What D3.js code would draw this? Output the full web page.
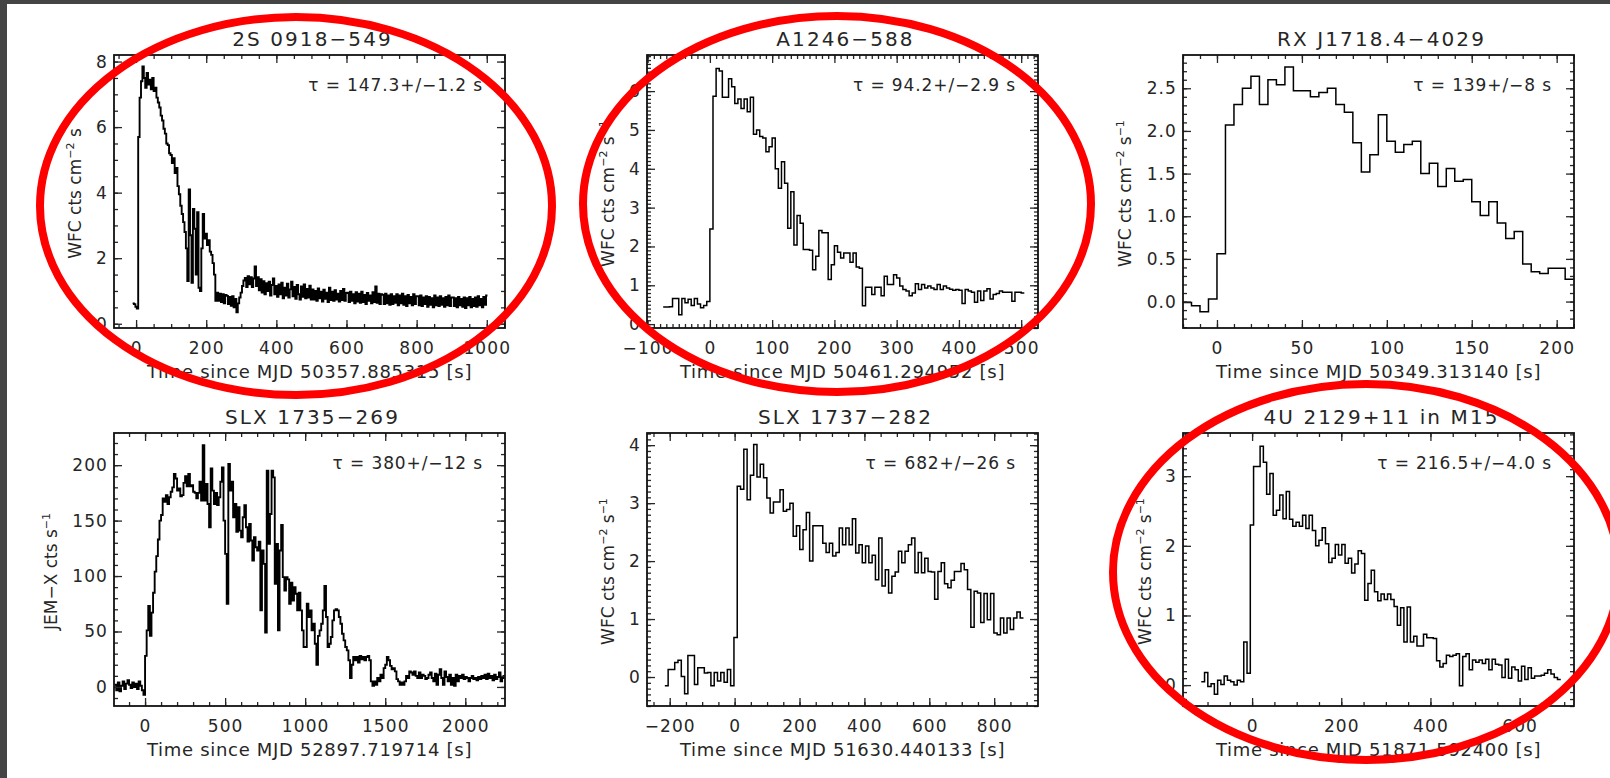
<!DOCTYPE html>
<html>
<head>
<meta charset="utf-8">
<script src="https://cdnjs.cloudflare.com/ajax/libs/d3/7.8.5/d3.min.js"></script>
<style>
body { margin: 0; background: #fff; }
svg { display: block; }
</style>
</head>
<body>
<div id="chart"></div>
<script>
// ---- data ----
var names = ["2S 0918\u2212549", "A1246\u2212588", "RX J1718.4\u22124029",
             "SLX 1735\u2212269", "SLX 1737\u2212282", "4U 2129+11 in M15"];
var tauLabels = ["147.3+/\u22121.2", "94.2+/\u22122.9", "139+/\u22128",
                 "380+/\u221212", "682+/\u221226", "216.5+/\u22124.0"];
var mjdLabels = ["50357.885315", "50461.294952", "50349.313140",
                 "52897.719714", "51630.440133", "51871.592400"];

// light curves: bin start (s), bin width (s), rates
var rate0918 = [
  0.62, 0.60, 0.52, 0.46, 5.7, 6.9, 7.4, 7.85, 7.5, 7.2,
  7.65, 7.3, 7.45, 7.15, 7.5, 7.1, 7.2, 6.9, 6.75, 6.6,
  6.35, 6.2, 5.95, 5.8, 5.5, 5.45, 5.2, 5.15, 4.9, 5.05,
  4.6, 4.75, 4.2, 3.95, 3.6, 3.35, 3.1, 2.8, 2.3, 1.3,
  4.1, 2.7, 1.25, 3.5, 2.9, 1.5, 3.4, 1.1, 1.0, 2.3,
  3.35, 2.6, 2.75, 2.4, 2.55, 2.2, 2.1, 1.85, 1.5, 0.7,
  0.95, 0.7, 0.92, 0.66, 0.9, 0.62, 0.88, 0.85, 0.6, 0.82,
  0.55, 0.84, 0.5, 0.76, 0.35, 0.62, 0.8, 0.95, 1.15, 1.32,
  1.4, 1.12, 1.45, 1.2, 1.42, 1.12, 1.38, 1.75, 1.15, 1.42,
  1.02, 1.36, 0.95, 1.3, 0.9, 1.24, 1.0, 1.28, 0.86, 1.18,
  1.38, 0.9,
  1.15, 0.82, 1.2, 0.9, 1.25, 0.78, 1.1, 0.86, 1.22, 0.8, 1.05, 1.28, 0.84,
  1.12, 0.76, 1.18, 0.9, 0.74, 1.14, 0.82, 1.2, 0.78, 1.06, 0.8, 1.16, 0.74,
  1.05, 0.74, 1.0, 0.7, 1.08, 0.78, 0.98, 0.68, 1.04, 0.76, 0.95, 0.66, 1.1,
  0.72, 0.98, 0.7, 1.02, 0.74, 0.92, 0.68, 1.0, 0.72, 1.06, 0.7, 0.94,
  0.95, 0.66, 0.98, 0.7, 0.9, 0.62, 0.96, 0.68, 0.92, 0.64, 0.98, 0.66, 0.88,
  0.6, 0.94, 0.7, 0.86, 0.62, 0.96, 0.66, 1.14, 0.64, 0.92, 0.6, 0.9,
  0.88, 0.6, 0.92, 0.62, 0.86, 0.58, 0.9, 0.6, 0.84, 0.64, 0.9, 0.56, 0.86,
  0.62, 0.92, 0.58, 0.84, 0.54, 0.88, 0.62, 0.82, 0.56, 0.9, 0.6, 0.84,
  0.84, 0.56, 0.86, 0.54, 0.8, 0.6, 0.84, 0.52, 0.82, 0.58, 0.78, 0.5, 0.86,
  0.56, 0.8, 0.54, 0.84, 0.58, 0.78, 0.52, 0.82, 0.56, 0.86, 0.54, 0.8,
  0.8, 0.54, 0.78, 0.5, 0.82, 0.56, 0.76, 0.52, 0.8, 0.48, 0.78, 0.56, 0.82,
  0.5, 0.76, 0.54, 0.8, 0.52, 0.84, 0.56, 0.76, 0.5, 0.82, 0.58, 0.86
];
var rate1246 = [
  0.44, 0.44, 0.45, 0.66, 0.66, 0.24, 0.66, 0.55, 0.64, 0.48, 0.66, 0.52, 0.42, 0.48, 0.58,
  2.45, 5.87, 6.58, 6.52, 5.84, 5.84, 6.32, 6.11, 5.68, 5.8,
  5.55, 5.8, 5.47, 5.84, 4.89, 5.0, 4.83, 4.79, 4.44, 4.57,
  4.79, 4.0, 3.5, 4.18, 3.63, 2.47, 3.41, 2.04, 2.8, 2.6,
  1.92, 1.92, 1.9, 1.4, 1.75, 2.41, 2.35, 2.35, 1.15, 1.53,
  2.02, 1.85, 1.7, 1.83, 1.83, 1.59, 1.83, 1.47, 1.44, 0.47,
  0.95, 0.95, 0.76, 0.95, 0.95, 0.73, 1.23, 1.02, 1.02, 1.27,
  1.19, 0.98, 0.89, 0.85, 0.73, 0.8, 1.04, 0.89, 1.02, 0.93,
  0.98, 0.93, 0.89, 1.02, 0.89, 0.98, 0.93, 0.9, 0.87, 0.89,
  0.87, 0.53, 0.89, 0.85, 0.82, 0.56, 0.85, 0.61, 0.85, 0.91,
  0.65, 0.76, 0.79, 0.85, 0.82, 0.82, 0.82, 0.59, 0.82, 0.82, 0.8
];
var rate1718 = [
  -0.01, -0.05, -0.12, 0.03, 0.56, 2.07, 2.31, 2.50, 2.64, 2.31,
  2.60, 2.54, 2.75, 2.47, 2.47, 2.40, 2.45, 2.50, 2.31, 2.22,
  1.86, 1.52, 1.72, 2.19, 1.88, 1.75, 1.84, 1.88, 1.50, 1.62,
  1.35, 1.56, 1.41, 1.43, 1.17, 1.01, 1.17, 0.92, 0.74, 0.82,
  0.44, 0.35, 0.33, 0.39, 0.39, 0.26
];
var rate1735 = [
  2, -3, 4, -4, 1, 5, -2, 3, 6, 2, -1, 4, 0, 3, -2, 5, 1, -3, -7,
  28, 51, 73, 46, 67, 85, 104, 118, 133, 150,
  155, 170, 167, 173, 165, 171, 176, 180, 192, 188,
  177, 179, 172, 173, 184, 190, 181, 192, 181, 182,
  176, 175, 170, 175, 185, 168, 218, 168, 183, 165,
  144, 197, 177, 165, 175, 164, 171, 185, 198, 150,
  120, 75, 201, 177, 185, 153, 165, 140, 162, 141,
  135, 153, 164, 144, 131, 147, 132, 114, 135, 126,
  123, 131, 69, 123, 111, 49, 195, 129, 156, 195,
  189, 93, 129, 51, 123, 146, 99, 87, 99, 97,
  75, 94, 78, 90, 84, 69, 85, 69, 51, 36,
  36, 75, 63, 69, 51, 57, 39, 20, 46, 51,
  57, 69, 91, 63, 36, 39, 45, 60, 69, 70,
  69, 63, 57, 48, 42, 36, 33, 24, 8, 20,
  27, 24, 27, 22, 28, 25, 27, 24, 27, 28,
  24, 5, 1, 5, 2, 8, 5, 11, 8, 17,
  20, 27, 24, 19, 16, 17, 14, 7, 5, 2,
  4, 2, 5, 10, 8, 14, 13, 11, 14, 10,
  8, 13, 8, 11, 10, 7, 8, 11, 13, 8,
  5, 12, 2, 11, 16, 8, 2, 14, 9, 5,
  11, 2, 8, 1, 11, 5, 10, 8, 11, 7,
  9, 8, 5, 8, 10, 7, 8, 6, 9, 7,
  10, 8, 11, 7, 12, 8, 10, 6, 11, 7,
  9, 13, 5, 8, 10
];
var rate1737 = [
  -0.15, 0.13, 0.13, 0.25, 0.29, 0.01, -0.29, 0.37, 0.37, -0.13, 0.16,
  0.16, 0.07, 0.08, -0.15, 0.08, -0.07, 0.08, -0.09, 0.13, -0.15,
  0.68, 3.29, 3.24, 3.93, 3.06, 3.48, 4.01, 3.45, 3.67, 3.44,
  3.09, 2.83, 3.02, 3.02, 3.23, 2.86, 2.89, 3.0, 2.43, 2.61,
  2.2, 2.54, 2.84, 2.0, 2.61, 2.61, 2.61, 2.31, 2.15, 2.31,
  2.09, 2.15, 2.57, 2.28, 2.57, 2.28, 2.73, 2.14, 2.28, 1.97,
  2.26, 1.97, 2.1, 1.68, 2.4, 1.57, 1.85, 1.45, 1.74, 1.81,
  2.17, 1.97, 2.17, 2.28, 2.4, 1.8, 2.15, 1.8, 2.05, 1.82,
  1.81, 1.34, 1.82, 1.97, 1.61, 1.54, 1.67, 1.82, 1.82, 1.96,
  1.85, 1.51, 0.86, 1.48, 1.45, 0.94, 1.44, 0.99, 1.44, 0.76,
  0.73, 1.02, 0.76, 1.02, 0.82, 1.02, 1.12, 1.02
];
var rate2129 = [
  0.05, 0.18, -0.02, 0.02, -0.13, 0.07, 0.01, 0.13, 0.07, 0.05,
  0.0, 0.07, 0.05, 0.62, 0.17, 2.3, 3.14, 3.14, 3.43, 3.2,
  2.74, 3.04, 2.44, 2.51, 2.73, 2.39, 2.78, 2.38, 2.28, 2.34,
  2.28, 2.44, 2.25, 2.44, 2.22, 2.0, 2.08, 2.26, 2.03, 1.76,
  1.82, 2.02, 1.87, 2.02, 1.75, 1.82, 1.61, 1.74, 1.93, 1.89,
  1.22, 1.46, 1.65, 1.34, 1.21, 1.31, 1.23, 1.31, 1.23, 1.13,
  0.86, 1.11, 0.62, 1.12, 0.62, 0.7, 0.56, 0.56, 0.73, 0.68,
  0.68, 0.67, 0.35, 0.26, 0.31, 0.43, 0.41, 0.43, 0.45, -0.01,
  0.41, 0.45, 0.22, 0.36, 0.33, 0.36, 0.31, 0.37, 0.22, 0.37,
  0.3, 0.29, 0.11, 0.37, 0.1, 0.26, 0.22, 0.06, 0.27, 0.08,
  0.25, 0.1, 0.13, 0.13, 0.14, 0.17, 0.22, 0.16, 0.11, 0.08
];
var rates = [rate0918, rate1246, rate1718, rate1735, rate1737, rate2129];
var binStart = [-10, -75, -20, -190, -215, -114];
var binWidth = [4, 5, 5, 10, 10.14, 7.33];
var lineWidth = [1.9, 1.5, 1.5, 1.9, 1.5, 1.5];

// axis ranges and tick steps
var xDomains = [[-63, 1052], [-101, 527], [-20, 210.2], [-194, 2248], [-270, 935], [-155, 722]];
var yDomains = [[-0.13, 8.2], [-0.1, 6.93], [-0.31, 2.89], [-17.2, 229], [-0.5, 4.21], [-0.3, 3.62]];
var xMajor = [200, 100, 50, 500, 200, 200];
var xMinor = [50, 10, 10, 100, 50, 50];
var yMajor = [2, 1, 0.5, 50, 1, 1];
var yMinor = [0.5, 0.1, 0.1, 10, 0.1, 0.1];
var yFormats = ["d", "d", ".1f", "d", "d", "d"];
// y title: [text, superscript] pieces
var yTitles = [
  [["WFC cts cm", ""], ["", "\u22122"], [" s", ""]],
  [["WFC cts cm", ""], ["", "\u22122"], [" s", ""], ["", "\u22121"]],
  [["WFC cts cm", ""], ["", "\u22122"], [" s", ""], ["", "\u22121"]],
  [["JEM\u2212X cts s", ""], ["", "\u22121"]],
  [["WFC cts cm", ""], ["", "\u22122"], [" s", ""], ["", "\u22121"]],
  [["WFC cts cm", ""], ["", "\u22122"], [" s", ""], ["", "\u22121"]]
];

// ---- layout ----
var W = 1610, H = 778;
var colLeft = [114, 647, 1183], rowTop = [55, 433];
var boxW = 391, boxH = 273;
var yTitleOff = [-39, -39, -58, -63, -39, -38];
var FONT = "'DejaVu Sans', Verdana, sans-serif";
var INK = "#262626";

var svg = d3.select("#chart").append("svg")
    .attr("width", W)
    .attr("height", H)
    .style("font-family", FONT);

svg.append("rect").attr("width", W).attr("height", H).attr("fill", "#fff");
// dark frame of the screenshot
svg.append("rect").attr("width", W).attr("height", 4).attr("fill", "#444");
svg.append("rect").attr("width", 7).attr("height", H).attr("fill", "#444");

function tickVals(dom, step) {
    var a = Math.ceil(dom[0] / step - 1e-9), b = Math.floor(dom[1] / step + 1e-9);
    return d3.range(a, b + 1).map(function(k) { return +(k * step).toFixed(6); });
}

function styleAxis(sel) {
    sel.select(".domain").remove();
    sel.attr("font-family", FONT).attr("font-size", 17);
    sel.selectAll("line").attr("stroke", INK).attr("stroke-width", 1.3);
    sel.selectAll("text").attr("fill", INK).attr("letter-spacing", 1.1);
}

function drawPanel(i) {
    var left = colLeft[i % 3], top = rowTop[Math.floor(i / 3)];
    var g = svg.append("g").attr("transform", "translate(" + left + "," + top + ")");

    var x = d3.scaleLinear().domain(xDomains[i]).range([0, boxW]);
    var y = d3.scaleLinear().domain(yDomains[i]).range([boxH, 0]);

    g.append("clipPath").attr("id", "clip" + i)
        .append("rect").attr("width", boxW).attr("height", boxH);

    var data = rates[i];
    var pts = data.map(function(v, k) { return [binStart[i] + k * binWidth[i], v]; });
    pts.push([binStart[i] + data.length * binWidth[i], data[data.length - 1]]);

    var line = d3.line()
        .x(function(d) { return x(d[0]); })
        .y(function(d) { return y(d[1]); })
        .curve(d3.curveStepAfter);

    g.append("path")
        .attr("clip-path", "url(#clip" + i + ")")
        .attr("d", line(pts))
        .attr("fill", "none")
        .attr("stroke", "#000")
        .attr("stroke-width", lineWidth[i])
        .attr("stroke-linejoin", "miter");

    var xMaj = tickVals(xDomains[i], xMajor[i]), xMin = tickVals(xDomains[i], xMinor[i]);
    var yMaj = tickVals(yDomains[i], yMajor[i]), yMin = tickVals(yDomains[i], yMinor[i]);
    var yFmt = d3.format(yFormats[i]);

    // minor ticks, all four sides
    g.append("g").attr("transform", "translate(0," + boxH + ")")
        .call(d3.axisBottom(x).tickValues(xMin).tickSize(-4).tickFormat("")).call(styleAxis);
    g.append("g")
        .call(d3.axisTop(x).tickValues(xMin).tickSize(-4).tickFormat("")).call(styleAxis);
    g.append("g")
        .call(d3.axisLeft(y).tickValues(yMin).tickSize(-4).tickFormat("")).call(styleAxis);
    g.append("g").attr("transform", "translate(" + boxW + ",0)")
        .call(d3.axisRight(y).tickValues(yMin).tickSize(-4).tickFormat("")).call(styleAxis);

    // major ticks with labels
    g.append("g").attr("transform", "translate(0," + boxH + ")")
        .call(d3.axisBottom(x).tickValues(xMaj).tickSize(-8).tickPadding(14).tickFormat(d3.format("d")))
        .call(styleAxis);
    g.append("g")
        .call(d3.axisTop(x).tickValues(xMaj).tickSize(-8).tickFormat("")).call(styleAxis);
    g.append("g")
        .call(d3.axisLeft(y).tickValues(yMaj).tickSize(-8).tickPadding(6).tickFormat(yFmt))
        .call(styleAxis);
    g.append("g").attr("transform", "translate(" + boxW + ",0)")
        .call(d3.axisRight(y).tickValues(yMaj).tickSize(-8).tickFormat("")).call(styleAxis);

    g.append("rect")
        .attr("width", boxW).attr("height", boxH)
        .attr("fill", "none").attr("stroke", "#111").attr("stroke-width", 1.8);

    g.append("text")
        .attr("x", boxW / 2 + 3).attr("y", -9.5)
        .attr("text-anchor", "middle")
        .attr("font-size", 20).attr("letter-spacing", 2.1)
        .attr("fill", INK)
        .text(names[i]);

    g.append("text")
        .attr("x", boxW - 22).attr("y", 36)
        .attr("text-anchor", "end")
        .attr("font-size", 17).attr("letter-spacing", 0.9)
        .attr("fill", INK)
        .text("\u03c4 = " + tauLabels[i] + " s");

    g.append("text")
        .attr("x", boxW / 2).attr("y", boxH + 50)
        .attr("text-anchor", "middle")
        .attr("font-size", 18).attr("letter-spacing", 0.7)
        .attr("fill", INK)
        .text("Time since MJD " + mjdLabels[i] + " [s]");

    var yt = g.append("text")
        .attr("transform", "translate(" + (yTitleOff[i] + 6) + "," + (boxH / 2 + 2) + ") rotate(-90)")
        .attr("text-anchor", "middle")
        .attr("font-size", 17)
        .attr("fill", INK);
    var shift = 0;
    yTitles[i].forEach(function(piece) {
        if (piece[1]) {
            yt.append("tspan").attr("dy", -7).attr("font-size", 11).text(piece[1]);
            shift = 7;
        } else {
            yt.append("tspan").attr("dy", shift).text(piece[0]);
            shift = 0;
        }
    });
}

d3.range(6).forEach(drawPanel);

// red highlight rings on top of the figure
var rings = [
    { cx: 296, cy: 206, rx: 256, ry: 189 },
    { cx: 837, cy: 204, rx: 254, ry: 188 },
    { cx: 1366, cy: 572, rx: 253, ry: 188 }
];
svg.append("g").selectAll("ellipse")
    .data(rings)
    .enter()
    .append("ellipse")
    .attr("cx", function(d) { return d.cx; })
    .attr("cy", function(d) { return d.cy; })
    .attr("rx", function(d) { return d.rx; })
    .attr("ry", function(d) { return d.ry; })
    .attr("fill", "none")
    .attr("stroke", "#ff0000")
    .attr("stroke-width", 8);
</script>
</body>
</html>
